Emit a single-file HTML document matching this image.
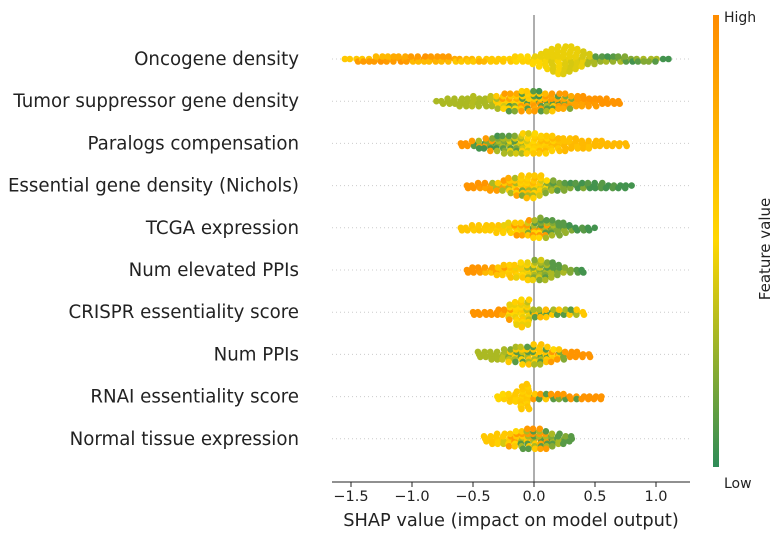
<!DOCTYPE html>
<html><head><meta charset="utf-8"><style>
body{margin:0;background:#fff;}
svg{display:block;font-family:"DejaVu Sans","Liberation Sans",sans-serif;}
</style></head><body>
<svg id="chart" width="783" height="540" viewBox="0 0 783 540">
<defs><linearGradient id="cb" x1="0" y1="1" x2="0" y2="0">
<stop offset="0" stop-color="#2e8b57"/><stop offset="0.5" stop-color="#ffd700"/><stop offset="1" stop-color="#ff8c00"/>
</linearGradient></defs>
<g id="grid"></g>
<line x1="534" y1="15" x2="534" y2="482" stroke="#999" stroke-width="1.6"/>
<g id="dots"></g>
<g id="labels"></g>
<g id="xaxis"></g>
<text x="511" y="526" font-size="17.8" text-anchor="middle" fill="#222">SHAP value (impact on model output)</text>
<rect x="713" y="15" width="6" height="452" fill="url(#cb)"/>
<text x="724" y="22" font-size="14" fill="#222">High</text>
<text x="724" y="488" font-size="14" fill="#222">Low</text>
<text transform="translate(770,249) rotate(-90)" font-size="15" text-anchor="middle" fill="#222">Feature value</text>
</svg>
<script>
const features=["Oncogene density","Tumor suppressor gene density","Paralogs compensation","Essential gene density (Nichols)","TCGA expression","Num elevated PPIs","CRISPR essentiality score","Num PPIs","RNAI essentiality score","Normal tissue expression"];
const binStart=[-1.55,-0.8,-0.6,-0.55,-0.6,-0.55,-0.5,-0.45,-0.3,-0.4];
const binCounts=[
[1,1,2,2,2,3,3,3,3,3,3, 3,3,3,3,3,3,3,2,2,2, 2,2,2,2,2,2,2,3,3,3, 4,6,8,10,12,12,11,9,7,5, 4,3,3,3,3,3,2,2,2,2,2,1,1],
[1,2,3,3,4,4,5,4,4,5, 6,7,8,8,9,9, 9,9,8,8,7,7, 6,5,5,4,4,3,3,2,2],
[2,2,3, 4,5,6,7,8,8,8,9, 9,9,8,8,7,6,6, 5,5,4,4,3,3,2,2,2,2],
[2,2,3,3,4,4,5, 7,8,9,10,10,9, 6,5,4,4, 3,3,3,3,3,3,2,2,2,2,1],
[2,2,3,3,3,3, 4,4,5,6,6,7, 8,9,8,7,6,5, 3,2,2,2,1],
[2,3,3,3,3, 4,5,6,6,7,8, 9,9,8,7,5, 3,2,2,2],
[2,2,2,2,3,3, 7,10,12,11, 4,4,4,3,3,3,3,3,2],
[3,3,4,4,5, 6,7,8,8,9,9, 7,6,5,4, 3,3,2,2],
[2,3,4,5, 10,11, 3,3,3,3,3,3,2,2,2,2,2,2],
[3,4,5,5,6,7, 8,9,9,9,8, 6,5,4,3]
];
const binColors=[
[[0.6,0.9],[0.6,0.9],[0.6,0.9],[0.6,0.9],[0.65,0.9],[0.7,0.9],[0.7,0.95],[0.7,0.9],[0.8,0.9],[0.8,0.95],[0.8,0.9],
 [0.9,0.7],[0.9,0.7],[0.95,0.7],[0.9,0.7],[0.9,0.75],[0.9,0.7],[0.9,0.7],[0.8,0.6],[0.8,0.6],[0.7,0.6],
 [0.7,0.6],[0.6,0.75],[0.6,0.7],[0.6,0.6],[0.6,0.6],[0.55,0.6],[0.55,0.6],[0.55,0.5],[0.5,0.55],[0.5,0.55],
 [0.45,0.5],[0.45,0.5],[0.45,0.48],[0.45,0.42],[0.45,0.48],[0.45,0.42],[0.45,0.4],[0.45,0.42],[0.4,0.45],[0.4,0.3],
 [0.1,0.3],[0.1,0.25],[0.05,0.3],[0.1,0.25],[0.15,0.3],[0.2,0.1],[0.2,0.05],[0.25,0.1],[0.3,0.2],[0.3,0.2],[0.3,0.1],[0.05],[0.05]],
[[0.3],[0.3],[0.3],[0.3],[0.3],[0.3],[0.32],[0.3],[0.3],[0.35,0.3],
 [0.55,0.6,0.3],[0.6,0.55,0.9,0.4],[0.6,0.55,0.85,0.1],[0.6,0.5,0.8,0.2],[0.55,0.6,0.1,0.9],[0.6,0.1,0.55,0.8],
 [0.1,0.8,0.6,0.9],[0.05,0.9,0.6,0.1],[0.9,0.1,0.7,0.3],[0.85,0.1,0.9,0.6],[0.9,0.1,0.8],[0.9,0.2,0.8],
 [0.9,0.8,0.2],[0.9,0.85],[0.95,0.85],[0.95,0.9],[0.95,0.9],[0.95],[0.95],[0.95],[0.95]],
[[0.95],[0.95],[0.9,0.1],[0.05,0.9,0.3],[0.05,0.9,0.2],[0.05,0.2,0.9],[0.05,0.2,0.3],[0.1,0.3,0.2],[0.1,0.3,0.45],[0.2,0.4,0.1],[0.4,0.3,0.55],
 [0.5,0.55,0.4],[0.55,0.6,0.5],[0.55,0.6,0.7],[0.6,0.55,0.7],[0.6,0.7,0.55],[0.6,0.7,0.65],[0.65,0.7],
 [0.65,0.7],[0.7,0.65],[0.7],[0.7,0.65],[0.7],[0.7],[0.7],[0.7],[0.7],[0.7]],
[[0.95],[0.95],[0.95,0.9],[0.95,0.85],[0.9,0.85,0.3],[0.9,0.3,0.6],[0.3,0.9,0.6],
 [0.6,0.3,0.8,0.55],[0.6,0.55,0.3,0.85],[0.6,0.65,0.55,0.2],[0.6,0.7,0.55,0.3],[0.6,0.55,0.7,0.3],[0.55,0.4,0.6],
 [0.3,0.5,0.2],[0.3,0.2,0.1],[0.1,0.3,0.2],[0.1,0.2],
 [0.05,0.2],[0.1,0.05],[0.05,0.2],[0.1,0.05],[0.05],[0.1],[0.05],[0.1],[0.05],[0.05],[0.05]],
[[0.62],[0.62],[0.62,0.58],[0.6,0.62],[0.6,0.58],[0.6,0.58],
 [0.6,0.55,0.62],[0.55,0.6,0.45],[0.55,0.45,0.6],[0.5,0.6,0.9],[0.45,0.6,0.85],[0.4,0.6,0.9,0.2],
 [0.1,0.9,0.3,0.55],[0.2,0.9,0.1,0.5],[0.1,0.3,0.9],[0.1,0.2,0.3],[0.1,0.2],[0.1,0.25],
 [0.05,0.2],[0.05],[0.1],[0.05],[0.05]],
[[0.95],[0.95],[0.95,0.9],[0.9,0.7],[0.85,0.65],
 [0.65,0.85,0.6],[0.6,0.65,0.9],[0.6,0.55,0.65],[0.55,0.6,0.45],[0.5,0.45,0.6],[0.45,0.55,0.3],
 [0.3,0.45,0.2],[0.3,0.2,0.4],[0.2,0.3,0.1],[0.1,0.3],[0.1,0.2],
 [0.2,0.3],[0.2],[0.1],[0.05]],
[[0.95],[0.95],[0.95],[0.95],[0.95],[0.95,0.8],
 [0.45,0.5,0.9],[0.45,0.5,0.55],[0.45,0.5,0.6],[0.45,0.55,0.35],
 [0.1,0.7,0.3],[0.7,0.1,0.3],[0.6,0.1,0.7],[0.1,0.6,0.3],[0.65,0.1],[0.6,0.1,0.3],[0.1,0.6],[0.6,0.3],[0.6]],
[[0.3],[0.3],[0.3],[0.3],[0.3,0.35],
 [0.35,0.2,0.6],[0.3,0.6,0.1],[0.6,0.1,0.35,0.55],[0.6,0.3,0.1,0.65],[0.6,0.55,0.1,0.3],[0.65,0.1,0.6,0.3],
 [0.6,0.1,0.65],[0.6,0.5,0.9],[0.9,0.6,0.2],[0.9,0.2],
 [0.95],[0.95],[0.95],[0.95]],
[[0.5],[0.5,0.55],[0.55,0.6],[0.6,0.55],
 [0.6,0.55,0.62],[0.6,0.62,0.55],
 [0.1,0.9,0.6],[0.9,0.1],[0.9,0.6,0.1],[0.9,0.1],[0.95,0.2],[0.9,0.1],[0.95],[0.9,0.1],[0.95],[0.95],[0.95],[0.95]],
[[0.6],[0.6,0.62],[0.6,0.55],[0.6,0.4],[0.55,0.6,0.9],[0.5,0.9,0.6],
 [0.9,0.3,0.6,0.1],[0.9,0.6,0.3,0.1],[0.95,0.3,0.1,0.6],[0.9,0.1,0.3,0.85],[0.1,0.9,0.3],
 [0.1,0.3,0.2],[0.1,0.3],[0.2,0.1],[0.1]]
];
const xTicks=[-1.5,-1.0,-0.5,0.0,0.5,1.0];
const xTickLabels=["\u22121.5","\u22121.0","\u22120.5","0.0","0.5","1.0"];

const NS="http://www.w3.org/2000/svg";
const X0=534, PXU=122, BIN=0.05;
const JIT=[0,1.2,-1.2,0.6,-0.6,1.0,-1.0,0.3,-0.3];
function xs(v){return X0+v*PXU;}
function ys(i){return 59+i*42.2;}
function lerp(a,b,t){return Math.round(a+(b-a)*t);}
function color(t){
  let c1,c2,u;
  if(t<0.5){c1=[46,139,87];c2=[255,215,0];u=t/0.5;}else{c1=[255,215,0];c2=[255,140,0];u=(t-0.5)/0.5;}
  return `rgb(${lerp(c1[0],c2[0],u)},${lerp(c1[1],c2[1],u)},${lerp(c1[2],c2[2],u)})`;
}
const grid=document.getElementById('grid'),dots=document.getElementById('dots'),labels=document.getElementById('labels'),xa=document.getElementById('xaxis');
features.forEach((f,i)=>{
  const y=ys(i);
  const gl=document.createElementNS(NS,'line');
  gl.setAttribute('x1',332);gl.setAttribute('x2',690);gl.setAttribute('y1',y);gl.setAttribute('y2',y);
  gl.setAttribute('stroke','#ccc');gl.setAttribute('stroke-width','1');gl.setAttribute('stroke-dasharray','1,3');
  
  
  grid.appendChild(gl);
  const t=document.createElementNS(NS,'text');
  t.setAttribute('x',299);t.setAttribute('y',y+6);t.setAttribute('text-anchor','end');t.setAttribute('font-size','18.2');t.setAttribute('fill','#222');
  t.textContent=f;
  
  
  labels.appendChild(t);
  const g=document.createElementNS(NS,'g');
  
  
  dots.appendChild(g);
  const counts=binCounts[i],cols=binColors[i];
  counts.forEach((n,b)=>{
    const v=binStart[i]+b*BIN;
    const cs=cols[b]||[0.5];
    for(let k=0;k<n;k++){
      const off=(k===0?0:(k%2?1:-1)*Math.ceil(k/2));
      const jx=JIT[(k+b*2)%JIT.length];
      const c=document.createElementNS(NS,'circle');
      c.setAttribute('cx',(xs(v)+jx).toFixed(1));
      c.setAttribute('cy',(y+off*2.5).toFixed(1));
      c.setAttribute('r',3.3);
      c.setAttribute('fill',color(cs[k%cs.length]));
      
      
      g.appendChild(c);
    }
  });
});
const ax=document.createElementNS(NS,'line');
ax.setAttribute('x1',332);ax.setAttribute('x2',690);ax.setAttribute('y1',482);ax.setAttribute('y2',482);ax.setAttribute('stroke','#222');ax.setAttribute('stroke-width','1');


xa.appendChild(ax);
xTicks.forEach((v,j)=>{
  const tk=document.createElementNS(NS,'line');
  tk.setAttribute('x1',xs(v));tk.setAttribute('x2',xs(v));tk.setAttribute('y1',482);tk.setAttribute('y2',487);tk.setAttribute('stroke','#222');
  
  
  xa.appendChild(tk);
  const tl=document.createElementNS(NS,'text');
  tl.setAttribute('x',xs(v));tl.setAttribute('y',501);tl.setAttribute('text-anchor','middle');tl.setAttribute('font-size','14.5');tl.setAttribute('fill','#222');
  tl.textContent=xTickLabels[j];
  
  
  xa.appendChild(tl);
});
</script>
</body></html>
